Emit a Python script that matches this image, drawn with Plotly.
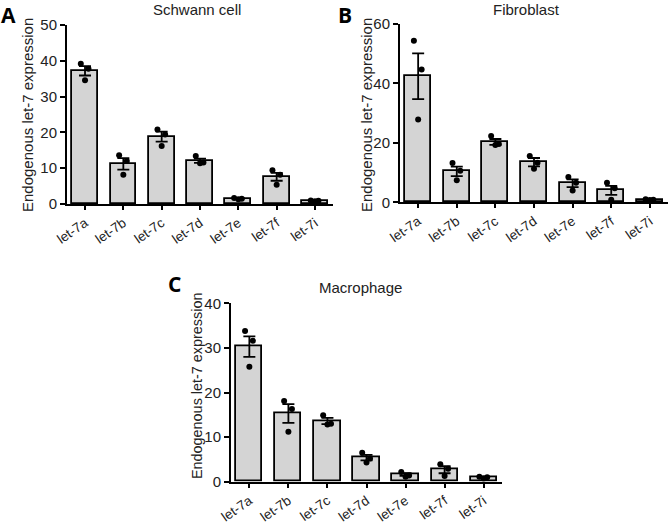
import plotly.graph_objects as go

categories = ["let-7a", "let-7b", "let-7c", "let-7d", "let-7e", "let-7f", "let-7i"]

# Panel A: Schwann cell
schwann_mean = [37.2, 11.2, 18.8, 12.1, 1.5, 7.6, 0.9]
schwann_sem = [1.3, 1.6, 1.4, 0.6, 0.15, 1.1, 0.1]
schwann_pts = [
    [39.2, 37.8, 34.6],
    [13.6, 12.0, 8.2],
    [20.8, 19.4, 16.2],
    [13.4, 11.6, 11.4],
    [1.7, 1.5, 1.3],
    [9.4, 8.2, 5.4],
    [1.0, 0.9, 0.8],
]

# Panel B: Fibroblast
fibro_mean = [42.4, 10.4, 20.3, 13.5, 6.4, 4.0, 0.9]
fibro_sem = [7.7, 1.6, 1.0, 1.4, 1.3, 1.5, 0.1]
fibro_pts = [
    [54.4, 44.7, 27.9],
    [13.2, 10.6, 7.4],
    [22.3, 19.6, 19.3],
    [15.6, 13.3, 11.3],
    [8.5, 6.6, 4.0],
    [6.6, 4.7, 0.9],
    [1.0, 0.9, 0.8],
]

# Panel C: Macrophage
macro_mean = [30.3, 15.3, 13.6, 5.4, 1.6, 2.7, 1.0]
macro_sem = [2.3, 2.1, 0.7, 0.6, 0.3, 0.8, 0.1]
macro_pts = [
    [33.8, 31.6, 25.8],
    [18.1, 16.3, 11.2],
    [14.9, 13.0, 12.8],
    [6.5, 5.2, 4.3],
    [2.2, 1.4, 1.1],
    [3.9, 2.9, 1.3],
    [1.1, 1.0, 0.7],
]

panel_titles = ["Schwann cell", "Fibroblast", "Macrophage"]
panel_letters = ["A", "B", "C"]
y_title = "Endogenous let-7 expression"
y_ranges = [50, 60, 40]
y_dticks = [10, 20, 10]

W, H = 670, 524
FONT = "Liberation Sans, Arial, sans-serif"
JITTER = [-0.11, 0.09, 0.0]

# pixel geometry of each plot area: (x_left, x_right, y_top, y_bottom)
geom = [(67, 333, 25, 204), (400, 668, 24, 202.3), (231, 502, 303.3, 481.7)]
xr = [-0.47, 6.47]

fig = go.Figure()
data = [(schwann_mean, schwann_sem, schwann_pts),
        (fibro_mean, fibro_sem, fibro_pts),
        (macro_mean, macro_sem, macro_pts)]
idx = list(range(len(categories)))

for p, (means, sems, pts) in enumerate(data):
    sfx = "" if p == 0 else str(p + 1)
    xa, ya = "x" + sfx, "y" + sfx
    fig.add_trace(go.Bar(x=idx, y=means, width=0.67, xaxis=xa, yaxis=ya,
                         marker=dict(color="#d4d4d4", line=dict(color="black", width=1.8)),
                         showlegend=False, hoverinfo="skip"))
    px, py = [], []
    for i, vals in enumerate(pts):
        for j, v in enumerate(vals):
            px.append(i + JITTER[j])
            py.append(v)
    fig.add_trace(go.Scatter(x=px, y=py, mode="markers", xaxis=xa, yaxis=ya,
                             marker=dict(color="black", size=6),
                             showlegend=False, hoverinfo="skip"))
    fig.add_trace(go.Scatter(x=idx, y=means, mode="markers", xaxis=xa, yaxis=ya,
                             marker=dict(size=0.1, color="rgba(0,0,0,0)"),
                             error_y=dict(type="data", array=sems, symmetric=True,
                                          color="black", thickness=1.8, width=6),
                             showlegend=False, hoverinfo="skip"))

    x0, x1, yt, yb = geom[p]
    axis_common = dict(showgrid=False, zeroline=False, showline=True, linecolor="black",
                       linewidth=2, ticks="outside", tickcolor="black", tickwidth=1.5,
                       automargin=False)
    fig.layout["xaxis" + sfx] = dict(
        domain=[x0 / W, x1 / W], range=xr, anchor=ya, ticklen=4,
        tickmode="array", tickvals=idx, ticktext=categories, tickangle=-35,
        tickfont=dict(family=FONT, size=13.5, color="#222"),
        **axis_common)
    fig.layout["yaxis" + sfx] = dict(
        domain=[(H - yb) / H, (H - yt) / H], range=[0, y_ranges[p]], anchor=xa,
        tick0=0, dtick=y_dticks[p], ticklen=5,
        tickfont=dict(family=FONT, size=15, color="#222"),
        **axis_common)

annotations = []
title_pos = [(197, 9), (526, 9), (361, 287)]
ytitle_pos = [(28, 115), (367, 115), (197, 386)]
ytitle_size = [15, 15, 14.4]
# (x, y, xanchor, yanchor) in pixels from top-left
letter_pos = [(0, 0, "left", "top"), (337, 0, "left", "top"), (175, 284, "center", "middle")]
for p in range(3):
    tx, ty = title_pos[p]
    annotations.append(dict(text=panel_titles[p], x=tx / W, y=1 - ty / H, xref="paper", yref="paper",
                            showarrow=False, xanchor="center", yanchor="middle",
                            font=dict(family=FONT, size=15, color="#222")))
    yx, yy = ytitle_pos[p]
    annotations.append(dict(text=y_title, x=yx / W, y=1 - yy / H, xref="paper", yref="paper",
                            showarrow=False, xanchor="center", yanchor="middle", textangle=-90,
                            font=dict(family=FONT, size=ytitle_size[p], color="#222")))
    lx, ly, xan, yan = letter_pos[p]
    annotations.append(dict(text="<b>" + panel_letters[p] + "</b>", x=lx / W, y=1 - ly / H,
                            xref="paper", yref="paper", showarrow=False,
                            xanchor=xan, yanchor=yan, borderpad=0,
                            font=dict(family="Open Sans, sans-serif", size=21, color="black")))

fig.update_layout(template="none", width=W, height=H, margin=dict(l=0, r=0, t=0, b=0, pad=0),
                  paper_bgcolor="white", plot_bgcolor="white",
                  annotations=annotations, bargap=0, showlegend=False)
fig.write_html("out.html", config={"displayModeBar": False},
               post_script="document.body.style.margin='0';")
